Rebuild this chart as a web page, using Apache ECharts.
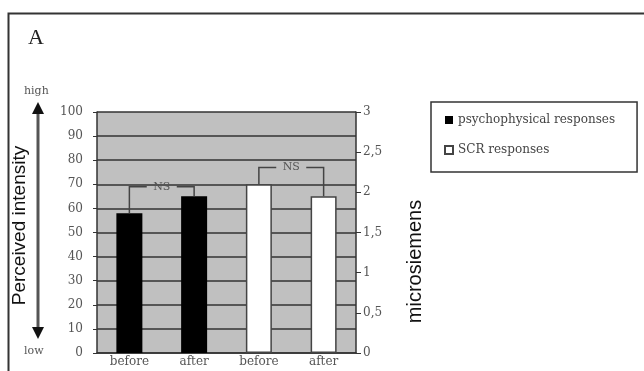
<!DOCTYPE html>
<html>
<head>
<meta charset="utf-8">
<script src="https://cdn.jsdelivr.net/npm/echarts@6/dist/echarts.min.js"></script>
<style>html,body{margin:0;padding:0;background:#fff}#c{width:644px;height:371px}</style>
</head>
<body>
<div id="c"></div>
<script>
const categories = ['before', 'after', 'before', 'after'];
const psychophysical = [58, 65, '-', '-'];
const scr = ['-', '-', 2.1, 1.95];
const leftMax = 100, leftInterval = 10;
const rightMax = 3, rightInterval = 0.5;
const bracketFrom = [0, 2];
const bracketTo = [1, 3];
const bracketLevel = [69, 77];   // in perceived-intensity units
const bracketLabel = ['NS', 'NS'];

const tops = categories.map((c, i) =>
  psychophysical[i] !== '-' ? psychophysical[i] : scr[i] * leftMax / rightMax);

const serif = 'DejaVu Serif';
const chart = echarts.init(document.getElementById('c'));
chart.setOption({
  animation: false,
  backgroundColor: '#fff',
  grid: { left: 97, right: 288, top: 112, bottom: 18, show: true, backgroundColor: '#c0c0c0', borderWidth: 0 },
  legend: {
    orient: 'vertical', left: 431, top: 102,
    padding: [12, 22, 16, 13], itemGap: 18, itemWidth: 8, itemHeight: 8,
    borderColor: '#333', borderWidth: 1.5, backgroundColor: '#fff', borderRadius: 0,
    textStyle: { fontFamily: serif, fontSize: 12, color: '#444' },
    data: [{ name: 'psychophysical responses', icon: 'rect' }, { name: 'SCR responses', icon: 'rect' }]
  },
  xAxis: {
    type: 'category', data: categories,
    axisLine: { lineStyle: { color: '#333', width: 1.5 } },
    axisTick: { show: false },
    axisLabel: { fontFamily: serif, fontSize: 12, color: '#555', margin: 3 }
  },
  yAxis: [
    {
      type: 'value', min: 0, max: leftMax, interval: leftInterval, position: 'left',
      name: 'Perceived intensity', nameLocation: 'middle', nameRotate: 90, nameGap: 68,
      nameTextStyle: { fontFamily: 'Liberation Sans', fontSize: 19, color: '#111', padding: [0, 0, 0, 14] },
      axisLine: { show: true, lineStyle: { color: '#333', width: 1.5 } },
      axisTick: { show: true, length: 4, lineStyle: { color: '#333' } },
      axisLabel: { fontFamily: serif, fontSize: 12, color: '#555', margin: 14 },
      splitLine: { show: true, lineStyle: { color: '#333', width: 1.5 } }
    },
    {
      type: 'value', min: 0, max: rightMax, interval: rightInterval, position: 'right',
      name: 'microsiemens', nameLocation: 'middle', nameRotate: 90, nameGap: 49,
      nameTextStyle: { fontFamily: 'Liberation Sans', fontSize: 20, color: '#111', padding: [0, 58, 0, 0] },
      axisLine: { show: true, lineStyle: { color: '#333', width: 1.5 } },
      axisTick: { show: true, length: 5, lineStyle: { color: '#333' } },
      axisLabel: { fontFamily: serif, fontSize: 12, color: '#555', margin: 7,
        formatter: v => String(v).replace('.', ',') },
      splitLine: { show: false }
    }
  ],
  series: [
    {
      name: 'psychophysical responses', type: 'bar', yAxisIndex: 0, data: psychophysical,
      barWidth: 26, barGap: '-100%',
      itemStyle: { color: '#000' }
    },
    {
      name: 'SCR responses', type: 'bar', yAxisIndex: 1, data: scr,
      barWidth: 26, barGap: '-100%',
      itemStyle: { color: '#fff', borderColor: '#444', borderWidth: 1.5 }
    },
    {
      type: 'custom', yAxisIndex: 0, z: 5, silent: true,
      data: bracketFrom.map((f, k) => [f, bracketTo[k], bracketLevel[k], k]),
      encode: { x: 0, y: 2 },
      renderItem: function (params, api) {
        const i = api.value(0), j = api.value(1), lvl = api.value(2), k = api.value(3);
        const a = api.coord([i, tops[i]]), b = api.coord([j, tops[j]]);
        const y = api.coord([i, lvl])[1];
        const mid = (a[0] + b[0]) / 2, gap = 15;
        const st = { stroke: '#444', lineWidth: 1.5, fill: null };
        return {
          type: 'group',
          children: [
            { type: 'polyline', shape: { points: [a, [a[0], y], [mid - gap, y]] }, style: st },
            { type: 'polyline', shape: { points: [[mid + gap, y], [b[0], y], b] }, style: st },
            { type: 'text', style: { x: mid, y: y, text: bracketLabel[k], align: 'center', verticalAlign: 'middle',
              fontFamily: serif, fontSize: 11, fill: '#555' } }
          ]
        };
      }
    }
  ],
  graphic: [
    { type: 'rect', left: 6, top: 11, shape: { width: 700, height: 400 }, style: { fill: null, stroke: '#333', lineWidth: 2 }, silent: true, z: 10 },
    { type: 'text', left: 28, top: 27, style: { text: 'A', fontFamily: 'Liberation Serif', fontSize: 22, fill: '#222' } },
    { type: 'text', left: 24, top: 86, style: { text: 'high', fontFamily: serif, fontSize: 11, fill: '#555' } },
    { type: 'text', left: 24, top: 346, style: { text: 'low', fontFamily: serif, fontSize: 11, fill: '#555' } },
    { type: 'line', shape: { x1: 38, y1: 110, x2: 38, y2: 330 }, style: { stroke: '#555', lineWidth: 3 } },
    { type: 'polygon', shape: { points: [[38, 102], [32, 114], [44, 114]] }, style: { fill: '#111' } },
    { type: 'polygon', shape: { points: [[38, 339], [32, 327], [44, 327]] }, style: { fill: '#111' } }
  ]
});
</script>
</body>
</html>
